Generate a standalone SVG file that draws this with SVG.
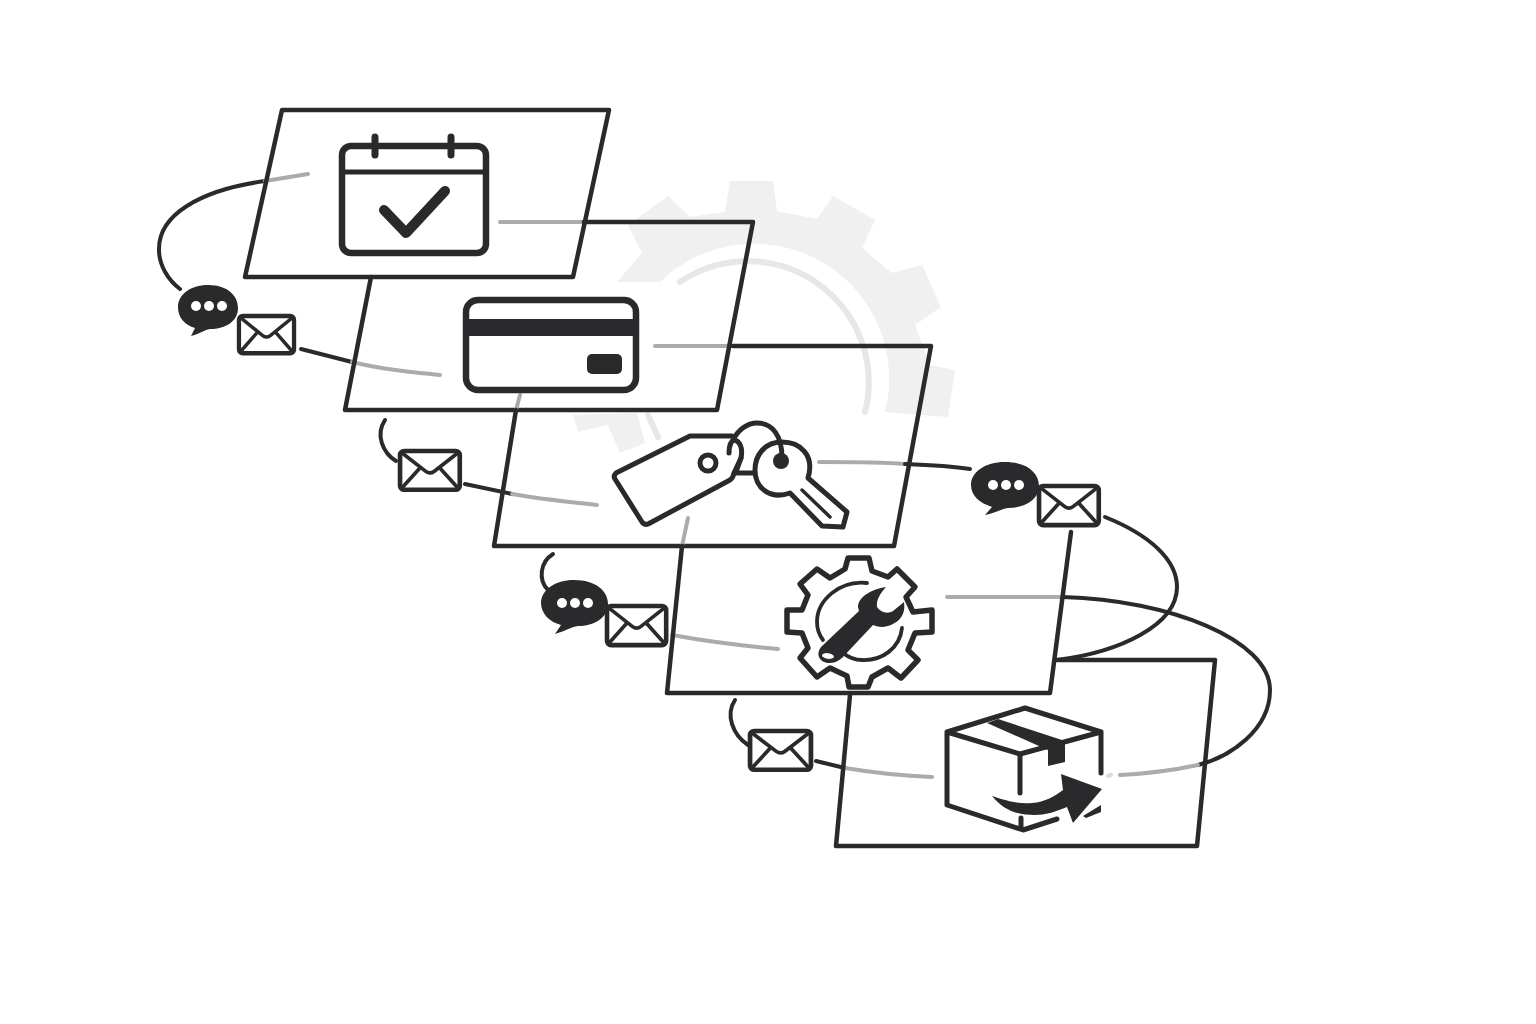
<svg xmlns="http://www.w3.org/2000/svg" xmlns:xlink="http://www.w3.org/1999/xlink" width="1536" height="1024" viewBox="0 0 1536 1024">
<style>
.p{fill:none;stroke:#2a2a2c;stroke-width:4.5;stroke-linejoin:round;stroke-linecap:round}
.k{fill:none;stroke:#2a2a2c;stroke-width:4;stroke-linecap:round}
.g{fill:none;stroke:#ababab;stroke-width:4;stroke-linecap:round}
.i{fill:none;stroke:#2a2a2c;stroke-width:6.5;stroke-linejoin:round;stroke-linecap:round}
.t{fill:none;stroke:#2a2a2c;stroke-width:5;stroke-linejoin:round;stroke-linecap:round}
.f{fill:#2a2a2c}
.w{fill:#fff}
.bg{fill:#eff0ef}
</style>
<defs>
<g id="env"><rect x="1" y="1" width="58" height="38" rx="4" fill="#fff" stroke="#2a2a2c" stroke-width="4.5"/><path d="M3,3 L26,21 Q30,24 34,21 L57,3 M3,37 L21,17 M57,37 L39,17" fill="none" stroke="#2a2a2c" stroke-width="3.6"/></g>
<g id="dots"><circle cx="-13" r="5" class="w"/><circle r="5" class="w"/><circle cx="13" r="5" class="w"/></g>
</defs>
<rect width="1536" height="1024" fill="#fff"/>
<g id="gear-bg">
<path class="bg" d="M730,181 L773,181 L777,211 L817,219 L833,196 L875,220 L862,248 L892,273 L922,265 L941,307 L915,325 L930,365 L955,370 L948,417 L885,412 A135,135 0 0 0 660,282 L617,282 L642,253 L628,225 L668,196 L690,217 L725,212 Z"/>
<path class="bg" d="M573,415 L578,432 L608,425 L620,453 L645,443 L637,413 Z"/>
<path d="M680,282 A121,121 0 0 1 865,412" fill="none" stroke="#e6e7e6" stroke-width="6" stroke-linecap="round"/>
<path d="M648,415 L658,437" fill="none" stroke="#e6e7e6" stroke-width="6" stroke-linecap="round"/>
</g>
<g id="connectors">
<path class="k" d="M265,181 C200,190 158,215 159,250 C159,265 168,280 180,289"/>
<path class="g" d="M308,174 L265,181"/>
<path class="k" d="M301,349 L352,362"/>
<path class="g" d="M352,362 C380,369 410,372 440,375"/>
<path class="g" d="M500,222 L584,222"/>
<path class="g" d="M655,346 L733,346"/>
<path class="k" d="M385,420 C375,435 383,453 396,461"/>
<path class="k" d="M465,484 L512,494"/>
<path class="g" d="M512,494 C540,499 570,502 597,505"/>
<path class="g" d="M819,462 C850,462 880,462 905,464"/>
<path class="k" d="M905,464 C930,465 950,466 970,469"/>
<path class="k" d="M1105,517 C1150,535 1177,560 1177,587 C1177,625 1120,652 1057,660"/>
<path class="g" d="M947,597 L1063,597"/>
<path class="k" d="M1063,597 C1170,600 1270,640 1270,690 C1270,730 1230,757 1198,765"/>
<path class="g" d="M1198,765 C1170,771 1140,774 1120,775"/>
<path class="k" d="M553,554 C540,562 538,580 548,590"/>
<path class="g" d="M672,635 C710,642 745,646 778,649"/>
<path class="k" d="M735,700 C725,715 733,735 748,745"/>
<path class="k" d="M816,761 L845,768"/>
<path class="g" d="M845,768 C875,773 905,776 932,777"/>
</g>
<g id="panel-1"><path class="p" d="M282,110 L609,110 L573,277 L245,277 Z"/></g>
<g id="panel-2"><path class="p" d="M584,222 L753,222 L717,410 L345,410 L371,277"/></g>
<g id="panel-3"><path class="g" d="M520,395 L516,410"/><path class="p" d="M516,410 L494,546 L894,546 L931,346 L733,346"/></g>
<g id="panel-4"><path class="g" d="M688,518 L682,546"/><path class="p" d="M682,546 L667,693 L1050,693 L1071,532"/></g>
<g id="panel-5"><path class="p" d="M850,695 L836,846 L1197,846 L1215,660 L1057,660"/></g>
<g id="calendar">
<rect class="i" x="342" y="146" width="144" height="107" rx="9"/>
<path class="i" style="stroke-width:5" d="M342,172 L486,172"/>
<path class="i" style="stroke-width:7" d="M375,137 L375,155 M451,137 L451,155"/>
<path class="i" style="stroke-width:10" d="M384,210 L406,233 L445,191"/>
</g>
<g id="card">
<rect class="i" x="466" y="300" width="170" height="90" rx="12"/>
<rect class="f" x="466" y="319" width="170" height="17"/>
<rect class="f" x="587" y="354" width="35" height="20" rx="5"/>
</g>
<g id="tag-key">
<path class="t" d="M732,436 L690,436 L616,473 Q613,476 615,479 L642,522 Q645,526 650,523 L730,480 Q733,478 734,473 L741,458"/>
<path class="t" d="M729,453 C729,446 731,441 734,440 C740,441 743,448 741,458 L736,472"/>
<circle class="t" cx="708" cy="463" r="8"/>
<path class="t" d="M733,440 C738,430 747,423 757,423 C772,423 782,435 782,458"/>
<path class="t" d="M737,473 L753,473"/>
<path class="t" d="M808,478 C815,455 800,442 782,442 C764,442 755,456 755,470 C755,488 770,500 790,493 L822,526 L843,527 L847,512 Z"/>
<circle class="f" cx="781" cy="461" r="8"/>
<path class="t" style="stroke-width:3.5" d="M802,490 L830,517"/>
</g>
<g id="gear-wrench">
<polygon fill="#fff" stroke="#2a2a2c" stroke-width="5.5" stroke-linejoin="round" points="845,569 848,558 869,558 872,571 888,577 897,569 915,587 906,597 913,612 932,610 932,632 915,633 908,650 918,660 901,678 888,668 872,677 868,687 849,687 847,676 830,668 817,677 800,658 808,648 802,633 787,632 787,610 802,610 808,595 800,584 817,569 830,578"/>
<path class="t" style="stroke-width:3.8" d="M867,583 C840,580 817,600 817,622 C817,630 820,636 823,640"/>
<path class="t" style="stroke-width:3.8" d="M902,628 C900,648 882,661 862,660 C855,660 848,657 843,653"/>
<path class="f" d="M886,587 C872,589 858,597 858,607 L859,611 L821,647 C815,655 820,663 830,663 C836,663 839,660 842,658 L873,625 C880,628 886,627 891,625 C900,621 906,614 904,602 L893,611 C888,614 881,613 877,607 C876,600 880,594 886,587 Z"/>
<ellipse cx="828" cy="656" rx="6" ry="2.8" class="w" transform="rotate(8 828 656)"/>
</g>
<g id="box">
<path class="t" style="stroke-width:5" d="M947,732 L1025,708 L1101,732 L1020,754 Z M947,732 L947,805 L1023,830 L1057,819 M1101,732 L1101,773 M1020,754 L1020,793 M1021,818 L1021,828"/>
<path class="f" d="M987,723 L998,719 L1065,741 L1065,762 L1048,766 L1048,750 Z"/>
<path class="f" d="M992,796 C1010,802 1020,804 1032,803 C1045,802 1055,796 1063,790 L1061,774 L1102,789 L1073,823 L1067,807 C1055,812 1045,815 1035,815 C1020,815 1005,812 992,796 Z"/>
<path class="f" d="M1083,816 L1101,805 L1101,812 L1086,818 Z"/>
<path class="g" d="M1108,776 L1111,775" style="stroke:#ddd"/>
</g>
<g id="bubble-1"><path class="f" d="M208,285 C228,285 238,296 238,308 C238,321 226,329 210,329 C204,330 199,334 191,336 L195,328 C185,325 178,318 178,307 C178,295 190,285 208,285 Z"/><use xlink:href="#dots" href="#dots" x="209" y="306"/></g>
<g id="bubble-2"><path class="f" d="M1005,462 C1027,462 1039,473 1039,486 C1039,500 1024,508 1008,508 C1001,509 995,513 985,515 L992,507 C980,503 971,496 971,485 C971,472 985,462 1005,462 Z"/><use xlink:href="#dots" href="#dots" x="1006" y="485"/></g>
<g id="bubble-3"><path class="f" d="M574,580 C596,580 608,591 608,604 C608,618 594,626 578,626 C571,627 565,631 555,634 L561,625 C549,622 541,613 541,603 C541,590 555,580 574,580 Z"/><use xlink:href="#dots" href="#dots" x="575" y="603"/></g>
<g id="envelope-1"><use xlink:href="#env" href="#env" transform="translate(238,315) scale(.95,.98)"/></g>
<g id="envelope-2"><use xlink:href="#env" href="#env" transform="translate(399,450) scale(1.03,1.02)"/></g>
<g id="envelope-3"><use xlink:href="#env" href="#env" transform="translate(1038,485) scale(1.03,1.03)"/></g>
<g id="envelope-4"><use xlink:href="#env" href="#env" transform="translate(606,605) scale(1.02,1.03)"/></g>
<g id="envelope-5"><use xlink:href="#env" href="#env" transform="translate(749,730) scale(1.05,1.02)"/></g>
</svg>
